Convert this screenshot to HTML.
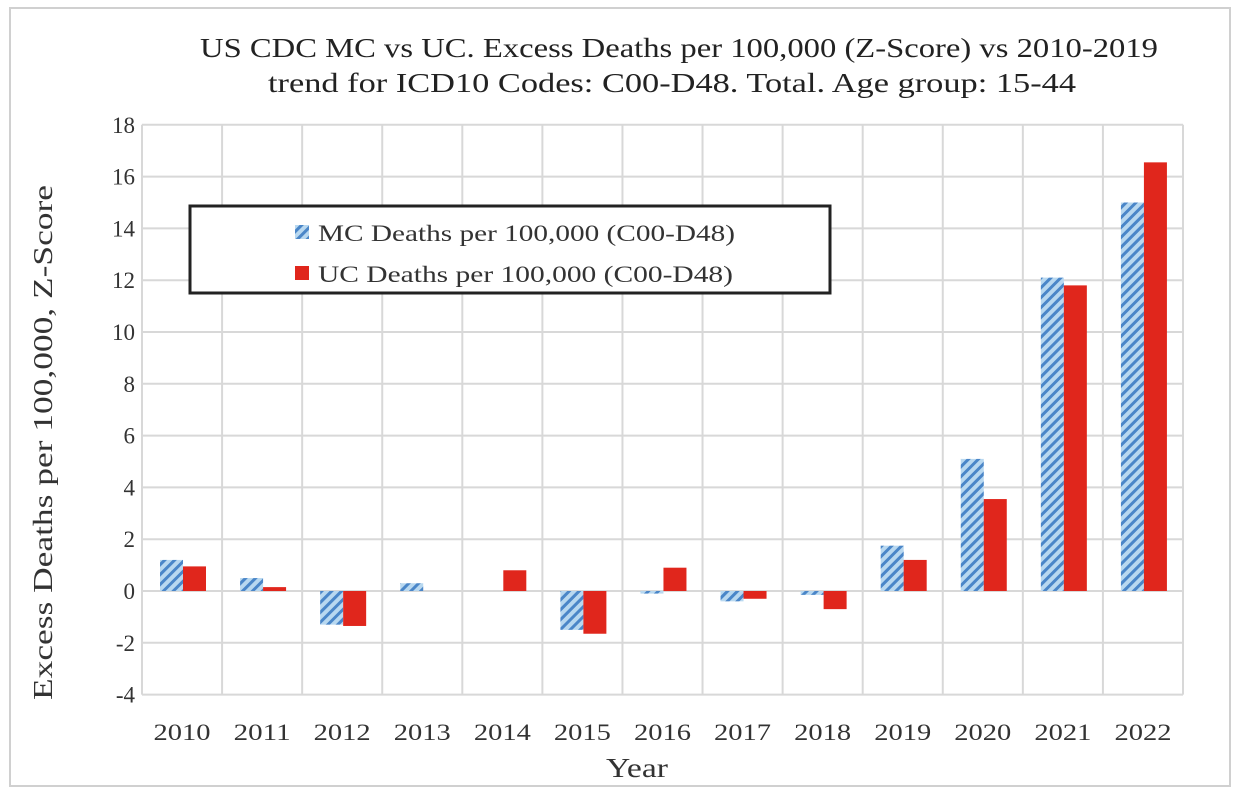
<!DOCTYPE html>
<html><head><style>body{margin:0;background:#fff}</style></head><body>
<svg width="1241" height="791" xmlns="http://www.w3.org/2000/svg" font-family="Liberation Serif, serif">
<defs>
<pattern id="h" patternUnits="userSpaceOnUse" width="7" height="7" patternTransform="rotate(45)">
<rect width="7" height="7" fill="#b8d8f0"/><rect width="3" height="7" fill="#4a86c8"/>
</pattern>
</defs>
<rect x="10" y="8" width="1220" height="778" fill="#fff" stroke="#d0d0d0" stroke-width="2"/>
<text x="200" y="57" font-size="27" textLength="958" lengthAdjust="spacingAndGlyphs" fill="#222">US CDC MC vs UC. Excess Deaths per 100,000 (Z-Score) vs 2010-2019</text>
<text x="268" y="92" font-size="27" textLength="808" lengthAdjust="spacingAndGlyphs" fill="#222">trend for ICD10 Codes: C00-D48. Total. Age group: 15-44</text>
<g stroke="#d8d8d8" stroke-width="2" id="grid"></g>
<g id="bars"></g>
<g font-size="23" fill="#333" text-anchor="end" id="yl"></g>
<g font-size="23" fill="#333" text-anchor="middle" id="xl"></g>
<text x="606" y="777" font-size="27" textLength="62" lengthAdjust="spacingAndGlyphs" fill="#333">Year</text>
<text transform="translate(52,700) rotate(-90)" font-size="27" textLength="515" lengthAdjust="spacingAndGlyphs" fill="#333">Excess Deaths per 100,000, Z-Score</text>
<rect x="190" y="206" width="640" height="87" fill="#fff" stroke="#222" stroke-width="3"/>
<rect x="295" y="225" width="14" height="14" fill="url(#h)"/>
<text x="318" y="241" font-size="23" textLength="417" lengthAdjust="spacingAndGlyphs" fill="#333">MC Deaths per 100,000 (C00-D48)</text>
<rect x="295" y="266" width="14" height="14" fill="#e0261c"/>
<text x="318" y="282" font-size="23" textLength="415" lengthAdjust="spacingAndGlyphs" fill="#333">UC Deaths per 100,000 (C00-D48)</text>
</svg>
<script>
const ns="http://www.w3.org/2000/svg";
function el(p,t,a,txt){const e=document.createElementNS(ns,t);for(const k in a)e.setAttribute(k,a[k]);if(txt!=null)e.textContent=txt;document.getElementById(p).appendChild(e);return e;}
const L=142,R=1183,cw=(R-L)/13,y0=591,u=25.9;
const Y=v=>y0-v*u;
for(let v=-4;v<=18;v+=2){el('grid','line',{x1:L,x2:R,y1:Y(v),y2:Y(v)});el('yl','text',{x:135,y:Y(v)+8},v);}
for(let i=0;i<=13;i++){const x=L+i*cw;el('grid','line',{x1:x,x2:x,y1:Y(18),y2:Y(-4)});}
const mc=[1.2,0.5,-1.3,0.3,0,-1.5,-0.1,-0.4,-0.15,1.75,5.1,12.1,15.0];
const uc=[0.95,0.15,-1.35,0,0.8,-1.65,0.9,-0.3,-0.7,1.2,3.55,11.8,16.55];
for(let i=0;i<13;i++){const x=L+i*cw+18;
[[mc[i],'url(#h)',x],[uc[i],'#e0261c',x+23]].forEach(([v,f,bx])=>{if(v==0)return;el('bars','rect',{x:bx,y:Math.min(Y(v),y0),width:23,height:Math.abs(v*u),fill:f});});
el('xl','text',{x:L+i*cw+cw/2,y:740,textLength:57,lengthAdjust:'spacingAndGlyphs'},2010+i);}
</script>
</body></html>
